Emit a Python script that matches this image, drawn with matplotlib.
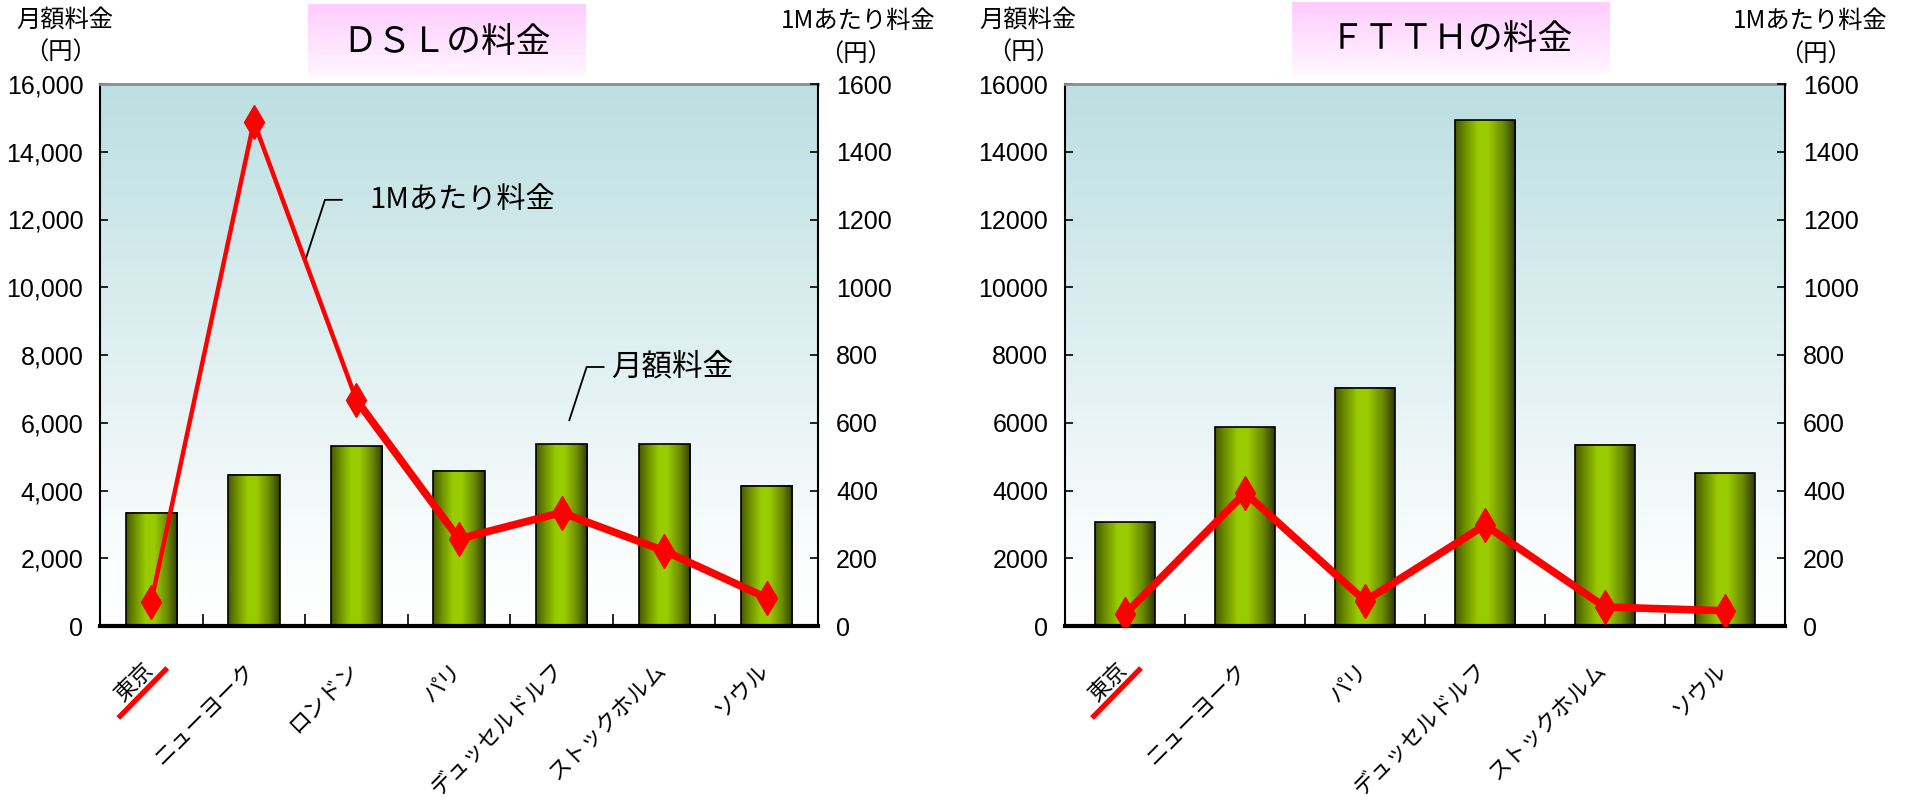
import numpy as np
import matplotlib
matplotlib.use("Agg")
import matplotlib.pyplot as plt
from matplotlib import transforms, font_manager
from matplotlib.colors import LinearSegmentedColormap
from matplotlib.ticker import FuncFormatter, MultipleLocator, FixedLocator

plt.rcParams['font.family'] = ['Noto Sans CJK JP', 'DejaVu Sans']

# ---- data ----
dsl_cities = ["東京", "ニューヨーク", "ロンドン", "パリ", "デュッセルドルフ", "ストックホルム", "ソウル"]
dsl_monthly = [3350, 4470, 5310, 4580, 5370, 5370, 4140]      # 月額料金 (円)
dsl_per_mb = [72, 1489, 667, 257, 335, 222, 83]               # 1Mあたり料金 (円)

ftth_cities = ["東京", "ニューヨーク", "パリ", "デュッセルドルフ", "ストックホルム", "ソウル"]
ftth_monthly = [3070, 5870, 7040, 14930, 5350, 4510]
ftth_per_mb = [35, 393, 74, 298, 56, 45]

names = {f.name for f in font_manager.fontManager.ttflist}
NUM_FONT = "Liberation Sans Narrow" if "Liberation Sans Narrow" in names else "Liberation Sans"

bg_cmap = LinearSegmentedColormap.from_list(
    "bg", [(0.0, "#ffffff"), (0.12, "#fbfdfd"), (1.0, "#bcdfe2")])
bar_cmap = LinearSegmentedColormap.from_list(
    "bar", [(0.0, "#465800"), (0.15, "#6a8a00"), (0.38, "#99cc00"),
            (0.55, "#99cc00"), (0.8, "#6a8a00"), (1.0, "#2f3b00")])
pink_cmap = LinearSegmentedColormap.from_list("pink", ["#fff6ff", "#ffccff"])

W, H = 1910, 807
fig = plt.figure(figsize=(W / 100, H / 100), dpi=100)


def px_rect(x0, y0, x1, y1):
    return [x0 / W, 1 - y1 / H, (x1 - x0) / W, (y1 - y0) / H]


def draw_panel(rect, cities, monthly, per_mb, thousands, thin_until=0):
    ax = fig.add_axes(rect)
    ax2 = ax.twinx()
    x = np.arange(len(cities))

    ax.imshow(np.linspace(0, 1, 256).reshape(-1, 1)[::-1], extent=(0, 1, 0, 1),
              transform=ax.transAxes, aspect="auto", cmap=bg_cmap, zorder=0)
    grad = np.linspace(0, 1, 128).reshape(1, -1)
    for xi, h in zip(x, monthly):
        ax.imshow(grad, extent=(xi - 0.25, xi + 0.25, 0, h), aspect="auto",
                  cmap=bar_cmap, zorder=2)
    ax.bar(x, monthly, width=0.5, facecolor="none", edgecolor="black", lw=1.2, zorder=3)

    ax.set_xlim(-0.5, len(cities) - 0.5)
    ax.set_ylim(0, 16000)
    ax2.set_ylim(0, 1600)

    # per-MB price line
    if thin_until:
        ax2.plot(x[:thin_until + 1], per_mb[:thin_until + 1], color="red", lw=3.2,
                 solid_capstyle="round", zorder=4)
        ax2.plot(x[thin_until:], per_mb[thin_until:], color="red", lw=5.5,
                 solid_capstyle="round", zorder=4)
    else:
        ax2.plot(x, per_mb, color="red", lw=5.5, solid_capstyle="round", zorder=4)
    ax2.plot(x, per_mb, ls="none", marker="d", ms=17, color="red", mec="red", zorder=5)

    for s in ["left", "bottom", "top", "right"]:
        ax2.spines[s].set_visible(False)
    ax.spines["right"].set_visible(False)
    ax2.spines["right"].set_visible(True)
    ax2.spines["right"].set_linewidth(1.5)
    ax.spines["left"].set_linewidth(1.5)
    ax.spines["bottom"].set_linewidth(3)
    ax.spines["top"].set_color("#8c8c8c")
    ax.spines["top"].set_linewidth(2)
    ax.spines["bottom"].set_zorder(6)

    ax.yaxis.set_major_locator(MultipleLocator(2000))
    ax2.yaxis.set_major_locator(MultipleLocator(200))
    if thousands:
        ax.yaxis.set_major_formatter(FuncFormatter(lambda v, p: f"{int(v):,}"))
    else:
        ax.yaxis.set_major_formatter(FuncFormatter(lambda v, p: f"{int(v)}"))
    ax.tick_params(axis="y", direction="in", length=6, width=1.2, labelsize=18,
                   pad=12, labelfontfamily=NUM_FONT)
    ax2.tick_params(axis="y", direction="in", length=6, width=1.2, labelsize=18,
                    pad=13, labelfontfamily=NUM_FONT)

    ax.set_xticks(x)
    ax.xaxis.set_minor_locator(FixedLocator(x[:-1] + 0.5))
    ax.tick_params(axis="x", which="major", length=0, labelbottom=False)
    ax.tick_params(axis="x", which="minor", direction="in", length=9, width=1.2)

    # rotated city names, anchored just below each category centre
    blend = transforms.blended_transform_factory(ax.transData, ax.transAxes)
    lab_trans = blend + transforms.ScaledTranslation(-0.095, -0.32, fig.dpi_scale_trans)
    for xi, c in zip(x, cities):
        ax.text(xi, 0, c, transform=lab_trans, rotation=45, rotation_mode="anchor",
                ha="right", va="top", fontsize=16)

    # red underline under 東京
    ul = fig.dpi_scale_trans + transforms.ScaledTranslation(x[0], 0, blend)
    ax.plot([-0.33, 0.16], [-0.92, -0.42], transform=ul, clip_on=False,
            color="red", lw=3.8, solid_capstyle="butt", zorder=10)
    return ax, ax2


def title_box(rect, text):
    tax = fig.add_axes(rect)
    tax.imshow(np.linspace(0, 1, 128).reshape(-1, 1)[::-1], extent=(0, 1, 0, 1),
               aspect="auto", cmap=pink_cmap)
    tax.set_xlim(0, 1)
    tax.set_ylim(0, 1)
    tax.axis("off")
    tax.text(0.5, 0.47, text, ha="center", va="center", fontsize=25)


# ---- DSL ----
ax, ax2 = draw_panel(px_rect(100, 84, 818, 626), dsl_cities, dsl_monthly, dsl_per_mb,
                     thousands=True, thin_until=2)
mid_y = (dsl_per_mb[1] + dsl_per_mb[2]) / 2
ax2.annotate("1Mあたり料金", xy=(1.5, mid_y), xytext=(2.13, 1258),
             ha="left", va="center", fontsize=21,
             arrowprops=dict(arrowstyle="-", color="black", lw=1.3, shrinkA=18, shrinkB=0,
                             connectionstyle="angle,angleA=0,angleB=72,rad=0"))
ax.annotate("月額料金", xy=(4, dsl_monthly[4]), xytext=(4.48, 7646),
            ha="left", va="center", fontsize=22,
            arrowprops=dict(arrowstyle="-", color="black", lw=1.3, shrinkA=3, shrinkB=18,
                            connectionstyle="angle,angleA=0,angleB=72,rad=0"))
title_box(px_rect(308, 4, 585, 76), "ＤＳＬの料金")
fig.text(65 / W, 1 - 21 / H, "月額料金", ha="center", va="center", fontsize=17.5)
fig.text(60 / W, 1 - 53 / H, "（円）", ha="center", va="center", fontsize=17.5)
fig.text(935 / W, 1 - 21 / H, "1Mあたり料金", ha="right", va="center", fontsize=17.5)
fig.text(855 / W, 1 - 55 / H, "（円）", ha="center", va="center", fontsize=17.5)

# ---- FTTH ----
draw_panel(px_rect(1065, 84, 1785, 626), ftth_cities, ftth_monthly, ftth_per_mb,
           thousands=False)
title_box(px_rect(1292, 2, 1610, 73), "ＦＴＴＨの料金")
fig.text(1028 / W, 1 - 21 / H, "月額料金", ha="center", va="center", fontsize=17.5)
fig.text(1023 / W, 1 - 53 / H, "（円）", ha="center", va="center", fontsize=17.5)
fig.text(1887 / W, 1 - 21 / H, "1Mあたり料金", ha="right", va="center", fontsize=17.5)
fig.text(1815 / W, 1 - 55 / H, "（円）", ha="center", va="center", fontsize=17.5)

fig.savefig("out.png", dpi=100)
